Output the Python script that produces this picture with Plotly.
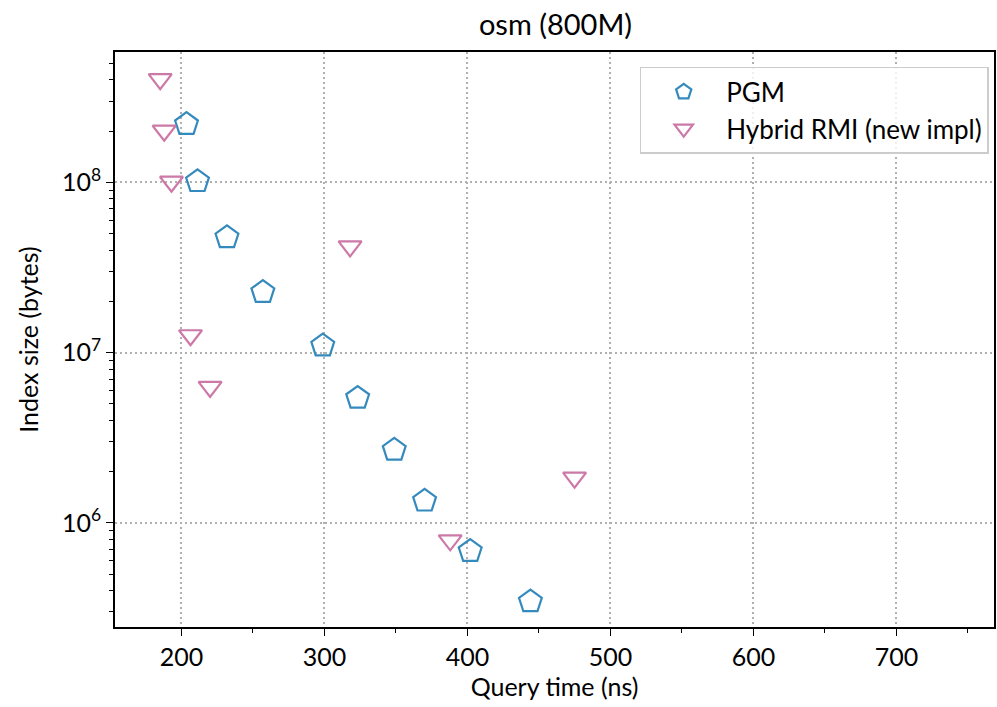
import plotly.graph_objects as go

# PGM
pgm_time = [203.5, 211.2, 231.8, 256.9, 298.8, 323.2, 348.8, 370.0, 401.9, 444.0]
pgm_size = [2.196e8, 1.015e8, 4.75e7, 2.268e7, 1.099e7, 5.415e6, 2.685e6, 1.348e6, 6.82e5, 3.453e5]

# Hybrid RMI (new impl)
rmi_time = [185.1, 187.9, 193.0, 317.9, 206.3, 220.0, 474.9, 387.9]
rmi_size = [4.04e8, 2.011e8, 1.009e8, 4.21e7, 1.265e7, 6.29e6, 1.844e6, 7.90e5]

x_ticks = [200, 300, 400, 500, 600, 700]
y_ticks = [1e6, 1e7, 1e8]
y_ticktext = ["10<sup>6</sup>", "10<sup>7</sup>", "10<sup>8</sup>"]
y_minor = [m * 10 ** e for e in range(5, 9) for m in range(2, 10)]

BLUE = "#348ABD"
PINK = "#CC79A7"
FONT = "Lato"

fig = go.Figure()
fig.add_trace(go.Scatter(
    x=pgm_time, y=pgm_size, mode="markers", name="PGM",
    marker=dict(symbol="pentagon-open", size=24, color=BLUE, line=dict(width=2.2, color=BLUE)),
))
fig.add_trace(go.Scatter(
    x=rmi_time, y=rmi_size, mode="markers", name="Hybrid RMI (new impl)",
    marker=dict(symbol="triangle-down-open", size=20, color=PINK, line=dict(width=2.2, color=PINK)),
))

axis_common = dict(
    showline=True, linecolor="black", linewidth=1.5, mirror=True,
    ticks="outside", ticklen=7, tickwidth=1.3, tickcolor="black",
    showgrid=True, gridcolor="#b0b0b0", griddash="1.5px,3.5px", gridwidth=1.6,
    zeroline=False,
    tickfont=dict(family=FONT, size=25, color="black"),
)

fig.update_xaxes(
    range=[153.5, 768.2], tickvals=x_ticks,
    title=dict(text="Query time (ns)", font=dict(family=FONT, size=25, color="black"), standoff=5),
    minor=dict(ticks="outside", ticklen=4, tickwidth=1.1, tickcolor="black", dtick=50, showgrid=False),
    **axis_common,
)
fig.update_yaxes(
    type="log", range=[5.3885, 8.7658], tickvals=y_ticks, ticktext=y_ticktext,
    title=dict(text="Index size (bytes)", font=dict(family=FONT, size=25, color="black"), standoff=16),
    minor=dict(ticks="outside", ticklen=4, tickwidth=1.1, tickcolor="black",
               tickmode="array", tickvals=y_minor, showgrid=False),
    **axis_common,
)

fig.update_layout(
    width=997, height=707,
    margin=dict(l=115, r=1, t=52, b=80),
    paper_bgcolor="white", plot_bgcolor="white",
    font=dict(family=FONT, color="black"),
    title=dict(text="osm (800M)", font=dict(family=FONT, size=29, color="black"),
               x=(115 + 996) / 2 / 997, xanchor="center", y=0.965, yanchor="middle"),
    legend=dict(
        x=0.994, y=0.974, xanchor="right", yanchor="top",
        bgcolor="rgba(255,255,255,0.8)", bordercolor="#cccccc", borderwidth=1.5,
        font=dict(family=FONT, size=26, color="black"),
        itemsizing="trace", itemwidth=75,
    ),
    showlegend=True,
)

fig.write_html("out.html")
